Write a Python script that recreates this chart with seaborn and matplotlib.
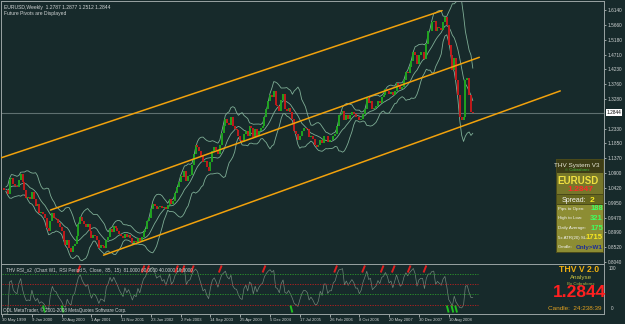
import matplotlib
matplotlib.use("Agg")
import matplotlib.pyplot as plt
from matplotlib.patches import Rectangle
import matplotlib.transforms as mtrans
import numpy as np
import pandas as pd
import seaborn as sns

# EURUSD weekly, one close every two weeks, starting 30 May 1999
close_1999 = [1.043, 1.037, 1.035, 1.022, 1.070, 1.075, 1.055, 1.048, 1.045, 1.068,
              1.086, 1.060, 1.035, 1.010, 1.012, 1.008]
close_2000 = [1.030, 1.005, 0.985, 0.990, 0.962, 0.965, 0.958, 0.945, 0.912, 0.905,
              0.935, 0.960, 0.945, 0.942, 0.928, 0.916, 0.903, 0.875, 0.860, 0.875,
              0.850, 0.835, 0.855, 0.862, 0.888, 0.925]
close_2001 = [0.950, 0.935, 0.925, 0.918, 0.925, 0.905, 0.880, 0.890, 0.888, 0.875,
              0.850, 0.858, 0.855, 0.848, 0.875, 0.885, 0.910, 0.902, 0.920, 0.912,
              0.905, 0.895, 0.888, 0.880, 0.895, 0.885]
close_2002 = [0.890, 0.880, 0.865, 0.872, 0.868, 0.880, 0.872, 0.885, 0.902, 0.910,
              0.935, 0.945, 0.975, 0.992, 0.985, 0.975, 0.980, 0.985, 0.978, 0.982,
              0.975, 0.988, 1.008, 0.992, 1.000, 1.025]
close_2003 = [1.045, 1.060, 1.080, 1.078, 1.095, 1.065, 1.080, 1.085, 1.115, 1.150,
              1.180, 1.175, 1.160, 1.145, 1.125, 1.130, 1.110, 1.095, 1.125, 1.160,
              1.175, 1.165, 1.150, 1.180, 1.220, 1.240]
close_2004 = [1.265, 1.250, 1.245, 1.270, 1.240, 1.230, 1.228, 1.210, 1.195, 1.190,
              1.215, 1.225, 1.210, 1.240, 1.235, 1.205, 1.230, 1.210, 1.225, 1.235,
              1.240, 1.270, 1.295, 1.320, 1.340, 1.335]
close_2005 = [1.355, 1.310, 1.305, 1.290, 1.325, 1.345, 1.295, 1.290, 1.300, 1.285,
              1.265, 1.225, 1.215, 1.195, 1.210, 1.225, 1.235, 1.235, 1.230, 1.205,
              1.210, 1.200, 1.180, 1.175, 1.180, 1.195]
close_2006 = [1.185, 1.210, 1.210, 1.190, 1.195, 1.195, 1.210, 1.215, 1.240, 1.275,
              1.280, 1.290, 1.260, 1.275, 1.265, 1.275, 1.285, 1.280, 1.270, 1.270,
              1.260, 1.265, 1.280, 1.295, 1.330, 1.315]
close_2007 = [1.320, 1.295, 1.300, 1.305, 1.320, 1.315, 1.335, 1.340, 1.360, 1.355,
              1.345, 1.350, 1.340, 1.355, 1.380, 1.370, 1.360, 1.365, 1.390, 1.415,
              1.410, 1.430, 1.450, 1.480, 1.470, 1.440]
close_2008 = [1.470, 1.480, 1.480, 1.455, 1.505, 1.545, 1.545, 1.575, 1.580, 1.545,
              1.560, 1.555, 1.550, 1.575, 1.590, 1.565, 1.500, 1.470, 1.420, 1.460,
              1.390, 1.340, 1.270, 1.260, 1.270, 1.390]
close_2009 = [1.395, 1.340, 1.285, 1.2844]

closes = (close_1999 + close_2000 + close_2001 + close_2002 + close_2003 + close_2004
          + close_2005 + close_2006 + close_2007 + close_2008 + close_2009)
weeks = np.arange(0, 2 * len(closes), 2)

# regression channel anchors (week index, price)
chan_top = ([-2, 473], [1.138, 1.612])
chan_mid = ([52, 513], [0.971, 1.462])
chan_low = ([109, 600], [0.826, 1.354])

# RSI signal arrows (week index)
rsi_up_weeks = [82, 151, 156, 187, 194, 204, 234, 281, 358, 388, 408, 420, 437, 454]
rsi_dn_weeks = [45, 65, 311, 479, 484, 488]
rsi_levels = [81, 60, 40, 19]

price_ticks = [1.6140, 1.5660, 1.5180, 1.4710, 1.4230, 1.3760, 1.3280, 1.2330, 1.1850,
               1.1370, 1.0900, 1.0420, 0.9950, 0.9470, 0.8990, 0.8520, 0.8040]
date_labels = ["30 May 1999", "9 Jan 2000", "20 Aug 2000", "1 Apr 2001", "11 Nov 2001",
               "23 Jun 2002", "2 Feb 2003", "14 Sep 2003", "25 Apr 2004", "5 Dec 2004",
               "17 Jul 2005", "26 Feb 2006", "8 Oct 2006", "20 May 2007", "30 Dec 2007",
               "10 Aug 2008"]
date_weeks = [32 * i for i in range(len(date_labels))]

BG = "#172a2b"
FG = "#d0d4d4"
FRAME = "#9aa3a3"

sns.set_theme(style="dark", rc={"axes.facecolor": BG, "figure.facecolor": BG})
plt.rcParams["font.family"] = ["Liberation Sans", "DejaVu Sans"]

W, H = 625, 324
fig = plt.figure(figsize=(W / 100, H / 100), dpi=100)


def fx(x):
    return x / W


def fy(y):
    return 1 - y / H


ax = fig.add_axes([fx(1), fy(264), fx(603), 263 / H])
ax2 = fig.add_axes([fx(1), fy(314), fx(603), 50 / H])

df = pd.DataFrame({"week": weeks, "close": closes})
df["mid"] = df["close"].rolling(10, min_periods=3).mean()
sd = df["close"].rolling(10, min_periods=3).std(ddof=0)
df["upper"] = df["mid"] + 2 * sd
df["lower"] = df["mid"] - 2 * sd

# bars: previous close -> close
prev = df["close"].shift(1)
up = df["close"] >= prev
ax.vlines(df["week"][up], prev[up], df["close"][up], color="#1fa81f", lw=1.35, zorder=3)
ax.vlines(df["week"][~up], prev[~up], df["close"][~up], color="#c81a1a", lw=1.35, zorder=3)

for col in ["mid", "upper", "lower"]:
    sns.lineplot(data=df, x="week", y=col, ax=ax, color="#7fae96", lw=0.6, zorder=2)

for xs, ys in [chan_top, chan_mid, chan_low]:
    ax.plot(xs, ys, color="#f2a20c", lw=1.1, zorder=4)

ax.axhline(closes[-1], color="#5f7070", lw=0.8, zorder=1)

ax.set_xlim(-1.2, 647)
ax.set_ylim(0.7976, 1.643)
ax.set_xticks([])
ax.set_yticks(price_ticks)
ax.set_yticklabels([f"{v:.4f}" for v in price_ticks])
ax.yaxis.tick_right()
ax.tick_params(axis="y", colors=FG, labelsize=3.4, length=1.5, width=0.5, pad=1.2,
               labelcolor=FG, right=True, left=False)
ax.set_xlabel("")
ax.set_ylabel("")
for s in ax.spines.values():
    s.set_color(FRAME)
    s.set_linewidth(0.7)

trans = mtrans.blended_transform_factory(ax.transAxes, ax.transData)
ax.text(1.005, closes[-1], "1.2844", transform=trans, fontsize=3.4, color="black",
        va="center", ha="left",
        bbox=dict(boxstyle="square,pad=0.15", fc="white", ec="white", lw=0))

ax.text(0.005, 0.985, "EURUSD,Weekly  1.2787 1.2877 1.2512 1.2844", transform=ax.transAxes,
        fontsize=3.6, color=FG, va="top", ha="left")
ax.text(0.005, 0.962, "Future Pivots are Displayed", transform=ax.transAxes,
        fontsize=3.6, color=FG, va="top", ha="left")

# RSI panel
d = df["close"].diff()
gain = d.clip(lower=0).ewm(alpha=1 / 5, adjust=False).mean()
loss = (-d.clip(upper=0)).ewm(alpha=1 / 5, adjust=False).mean()
df["rsi"] = 100 - 100 / (1 + gain / loss)
sns.lineplot(data=df, x="week", y="rsi", ax=ax2, color="#6f8478", lw=0.5)

level_cols = ["#2c9a2c", "#c02020", "#2c9a2c", "#c02020"]
for lv, c in zip(rsi_levels, level_cols):
    ax2.hlines(lv, 0, 512, color=c, lw=0.6, linestyles=(0, (1.5, 1.5)))
for w in rsi_up_weeks:
    ax2.plot([w - 1, w + 2], [83, 97], color="#e02020", lw=1.4, solid_capstyle="butt")
for w in rsi_dn_weeks:
    ax2.plot([w - 1, w + 1], [17, 3], color="#20c020", lw=1.4, solid_capstyle="butt")

ax2.set_xlim(-1.2, 647)
ax2.set_ylim(0, 100)
ax2.set_yticks([])
ax2.set_ylabel("")
ax2.set_xlabel("")
ax2.set_xticks(date_weeks)
ax2.set_xticklabels(date_labels, ha="left")
ax2.tick_params(axis="x", colors=FG, labelsize=3.0, length=2, width=0.5, pad=1.2,
                bottom=True, labelcolor=FG)
for s in ax2.spines.values():
    s.set_color(FRAME)
    s.set_linewidth(0.7)
ax2.text(0.008, 0.92, "THV RSI_x2  (Chart W1,  RSI Period 5,  Close,  85,  15)  "
         "81.0000 60.0000 40.0000 19.0000", transform=ax2.transAxes,
         fontsize=3.3, color=FG, va="top", ha="left")
ax2.text(0.004, 0.02, "ODL MetaTrader, \u00a9 2001-2008 MetaQuotes Software Corp.",
         transform=ax2.transAxes, fontsize=3.3, color=FG, va="bottom", ha="left")
ax2.text(1.008, 0.97, "100", transform=ax2.transAxes, fontsize=3.3, color=FG, va="top")
ax2.text(1.012, 0.06, "0", transform=ax2.transAxes, fontsize=3.3, color=FG, va="bottom")

# THV System box


def rect(x0, y0, x1, y1, color, z=10):
    fig.add_artist(Rectangle((fx(x0), fy(y1)), fx(x1 - x0), (y1 - y0) / H,
                             transform=fig.transFigure, fc=color, ec="none", zorder=z))


def txt(x, y, s, size, color, ha="left", weight="normal"):
    fig.text(fx(x), fy(y), s, fontsize=size, color=color, ha=ha, va="center",
             weight=weight, zorder=20)


rect(556, 159, 604, 253, "#4a4a1a")
rect(557, 160, 603, 173, "#3d3d16")
rect(557, 173, 603, 194, "#77772a")
rect(557, 195, 603, 204, "#66661f")
rect(557, 205, 603, 252, "#8d8d33")
txt(577, 165, "THV System V3", 4.6, "#e8e8d8", ha="center")
txt(577, 170, "\u00a9 Cobraforex", 3, "#40c040", ha="center")
txt(578, 181, "EURUSD", 7, "#f0e040", ha="center", weight="bold")
txt(580, 189.5, "1.2847", 6, "#ff2a2a", ha="center", weight="bold")
txt(562, 200, "Spread:", 5, "#f4f4f4")
txt(590, 200, "2", 6, "#f8e820", weight="bold")
rows = [("Pips to Open:", "188", "#40ff60"), ("High to Low:", "321", "#40ff60"),
        ("Daily Average:", "175", "#40ff60"), ("5x ATR(20) SL:", "1715", "#f8e820"),
        ("Candle:", "Only>W1", "#1a2a9a")]
for i, (lab, val, vc) in enumerate(rows):
    yy = 209 + i * 9.5
    txt(557.5, yy, lab, 3.2, "#f4f4f4")
    txt(603, yy, val, 5.5 if i < 4 else 4.5, vc, ha="right", weight="bold")

txt(579, 269, "THV V 2.0", 6.2, "#f0b010", ha="center", weight="bold")
txt(581, 277.5, "Analyse", 4.5, "#c8c040", ha="center")
txt(581, 284.5, "By Cobraforex", 3.2, "#a8b040", ha="center")
txt(580, 292.5, "1.2844", 12.5, "#ff2020", ha="center", weight="bold")
txt(575, 308.5, "Candle:  24:238:39", 4.6, "#e0a020", ha="center")

fig.savefig("out.png", dpi=100, facecolor=BG)
